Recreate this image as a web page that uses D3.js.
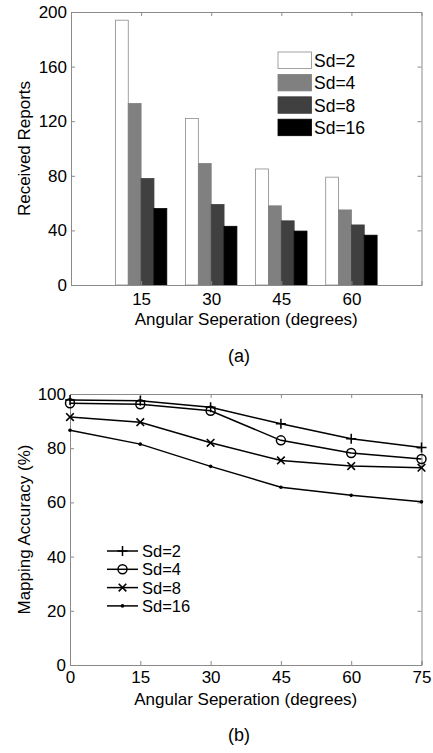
<!DOCTYPE html>
<html>
<head>
<meta charset="utf-8">
<script src="https://cdn.jsdelivr.net/npm/d3@7"></script>
<style>
  body { margin: 0; background: #fff; }
  svg { display: block; font-family: "Liberation Sans", Arial, sans-serif; }
  .tick text { fill: #000; font-size: 17px; }
</style>
</head>
<body>
<div id="chart"></div>
<script>
// ---- data (a): received reports ----
var barAngles = [15, 30, 45, 60];
var barSeries = ["Sd=2", "Sd=4", "Sd=8", "Sd=16"];
var reportsSd2 = [194, 122, 85, 79];
var reportsSd4 = [133, 89, 58, 55];
var reportsSd8 = [78, 59, 47, 44];
var reportsSd16 = [56, 43, 39.5, 36.5];
var barColors = ["#ffffff", "#808080", "#404040", "#000000"];
var reportTicks = [0, 40, 80, 120, 160, 200];

// ---- data (b): mapping accuracy ----
var lineAngles = [0, 15, 30, 45, 60, 75];
var accuracySd2 = [97.8, 97.5, 95.1, 89, 83.5, 80.3];
var accuracySd4 = [96.6, 96.2, 93.8, 82.9, 78.2, 76];
var accuracySd8 = [91.5, 89.6, 82, 75.5, 73.4, 72.8];
var accuracySd16 = [86.6, 81.5, 73.3, 65.6, 62.6, 60.2];
var lineMarkers = ["plus", "circle", "cross", "dot"];
var accuracyTicks = [0, 20, 40, 60, 80, 100];

var W = 433, H = 753;
var axisGray = "#8a8a8a";

var svg = d3.select("#chart").append("svg")
    .attr("width", W)
    .attr("height", H);

// draws the matlab-style box with inward ticks on all four sides
function drawBox(g, x, y, xTicks, yTicks, width, height, xPad) {
    g.append("g")
        .attr("transform", `translate(0,${height})`)
        .call(d3.axisBottom(x).tickValues(xTicks).tickSize(-4).tickPadding(xPad)
            .tickFormat(d3.format("d")));
    g.append("g")
        .call(d3.axisTop(x).tickValues(xTicks).tickSize(-4).tickFormat(""));
    g.append("g")
        .call(d3.axisLeft(y).tickValues(yTicks).tickSize(-4).tickPadding(4));
    g.append("g")
        .attr("transform", `translate(${width},0)`)
        .call(d3.axisRight(y).tickValues(yTicks).tickSize(-4).tickFormat(""));
    g.selectAll(".domain").attr("stroke", axisGray);
    g.selectAll(".tick line").attr("stroke", axisGray);
}

// ================= (a) grouped bars =================
(function () {
    var left = 71, top = 12, width = 350.5, height = 273;
    var g = svg.append("g").attr("transform", `translate(${left},${top})`);

    var x = d3.scaleLinear().domain([0, 75]).range([0, width]);
    var y = d3.scaleLinear().domain([0, 200]).range([height, 0]);

    var seriesValues = [reportsSd2, reportsSd4, reportsSd8, reportsSd16];
    var groupWidth = x(11) - x(0);
    var sub = d3.scaleBand().domain(barSeries).range([-groupWidth / 2, groupWidth / 2]);

    var rows = [];
    barAngles.forEach(function (a, i) {
        barSeries.forEach(function (s, j) {
            rows.push({ angle: a, series: s, value: seriesValues[j][i], color: barColors[j] });
        });
    });

    g.selectAll(".bar")
        .data(rows)
        .join("rect")
        .attr("class", "bar")
        .attr("x", d => x(d.angle) + sub(d.series))
        .attr("y", d => y(d.value))
        .attr("width", sub.bandwidth())
        .attr("height", d => height - y(d.value))
        .attr("fill", d => d.color)
        .attr("stroke", d => d.color === "#ffffff" ? "#8a8a8a" : d.color)
        .attr("stroke-width", 0.8);

    drawBox(g, x, y, barAngles, reportTicks, width, height, 8);

    // legend
    var leg = g.append("g").attr("transform", `translate(${278 - left},${52 - top})`);
    var legItems = leg.selectAll("g")
        .data(barSeries)
        .join("g")
        .attr("transform", (d, i) => `translate(0,${i * 22.4})`);
    legItems.append("rect")
        .attr("width", 33.5)
        .attr("height", 16.5)
        .attr("fill", (d, i) => barColors[i])
        .attr("stroke", (d, i) => i === 0 ? "#8a8a8a" : barColors[i])
        .attr("stroke-width", 0.8);
    legItems.append("text")
        .attr("x", 36)
        .attr("y", 8.5)
        .attr("dy", "0.36em")
        .style("font-size", "17.5px")
        .text(d => d);

    // titles
    svg.append("text")
        .attr("x", left + width / 2)
        .attr("y", 325)
        .attr("text-anchor", "middle")
        .style("font-size", "17px")
        .text("Angular Seperation (degrees)");
    svg.append("text")
        .attr("transform", `translate(30,${top + height / 2}) rotate(-90)`)
        .attr("text-anchor", "middle")
        .style("font-size", "17px")
        .text("Received Reports");
    svg.append("text")
        .attr("x", 239)
        .attr("y", 362)
        .attr("text-anchor", "middle")
        .style("font-size", "18px")
        .text("(a)");
})();

// ================= (b) lines =================
(function () {
    var left = 70, top = 394, width = 351.5, height = 271;
    var g = svg.append("g").attr("transform", `translate(${left},${top})`);

    var x = d3.scaleLinear().domain([0, 75]).range([0, width]);
    var y = d3.scaleLinear().domain([0, 100]).range([height, 0]);

    drawBox(g, x, y, lineAngles, accuracyTicks, width, height, 6);

    var seriesValues = [accuracySd2, accuracySd4, accuracySd8, accuracySd16];
    var line = d3.line().x(d => x(d[0])).y(d => y(d[1]));

    function marker(sel, kind) {
        if (kind === "plus") {
            sel.append("path").attr("d", "M-5,0H5M0,-5V5")
                .attr("stroke", "#000").attr("stroke-width", 1.5).attr("fill", "none");
        } else if (kind === "circle") {
            sel.append("circle").attr("r", 4.5)
                .attr("stroke", "#000").attr("stroke-width", 1.5).attr("fill", "none");
        } else if (kind === "cross") {
            sel.append("path").attr("d", "M-3.8,-3.8L3.8,3.8M-3.8,3.8L3.8,-3.8")
                .attr("stroke", "#000").attr("stroke-width", 1.6).attr("fill", "none");
        } else {
            sel.append("circle").attr("r", 1.8).attr("fill", "#000");
        }
    }

    seriesValues.forEach(function (vals, j) {
        var pts = lineAngles.map((a, i) => [a, vals[i]]);
        g.append("path")
            .datum(pts)
            .attr("d", line)
            .attr("fill", "none")
            .attr("stroke", "#000")
            .attr("stroke-width", 1.5);
        g.selectAll(".m" + j)
            .data(pts)
            .join("g")
            .attr("class", "m" + j)
            .attr("transform", d => `translate(${x(d[0])},${y(d[1])})`)
            .each(function () { marker(d3.select(this), lineMarkers[j]); });
    });

    // legend
    var leg = svg.append("g").attr("transform", "translate(107,551)");
    var items = leg.selectAll("g")
        .data(barSeries)
        .join("g")
        .attr("transform", (d, i) => `translate(0,${i * 18.3})`);
    items.append("line")
        .attr("x1", 0).attr("x2", 31)
        .attr("stroke", "#000").attr("stroke-width", 1.5);
    items.each(function (d, i) {
        var m = d3.select(this).append("g").attr("transform", "translate(15.5,0)");
        marker(m, lineMarkers[i]);
    });
    items.append("text")
        .attr("x", 35)
        .attr("dy", "0.36em")
        .style("font-size", "16.5px")
        .text(d => d);

    svg.append("text")
        .attr("x", left + width / 2)
        .attr("y", 705)
        .attr("text-anchor", "middle")
        .style("font-size", "17px")
        .text("Angular Seperation (degrees)");
    svg.append("text")
        .attr("transform", `translate(30,${top + height / 2}) rotate(-90)`)
        .attr("text-anchor", "middle")
        .style("font-size", "17px")
        .text("Mapping Accuracy (%)");
    svg.append("text")
        .attr("x", 239)
        .attr("y", 741)
        .attr("text-anchor", "middle")
        .style("font-size", "18px")
        .text("(b)");
})();
</script>
</body>
</html>
